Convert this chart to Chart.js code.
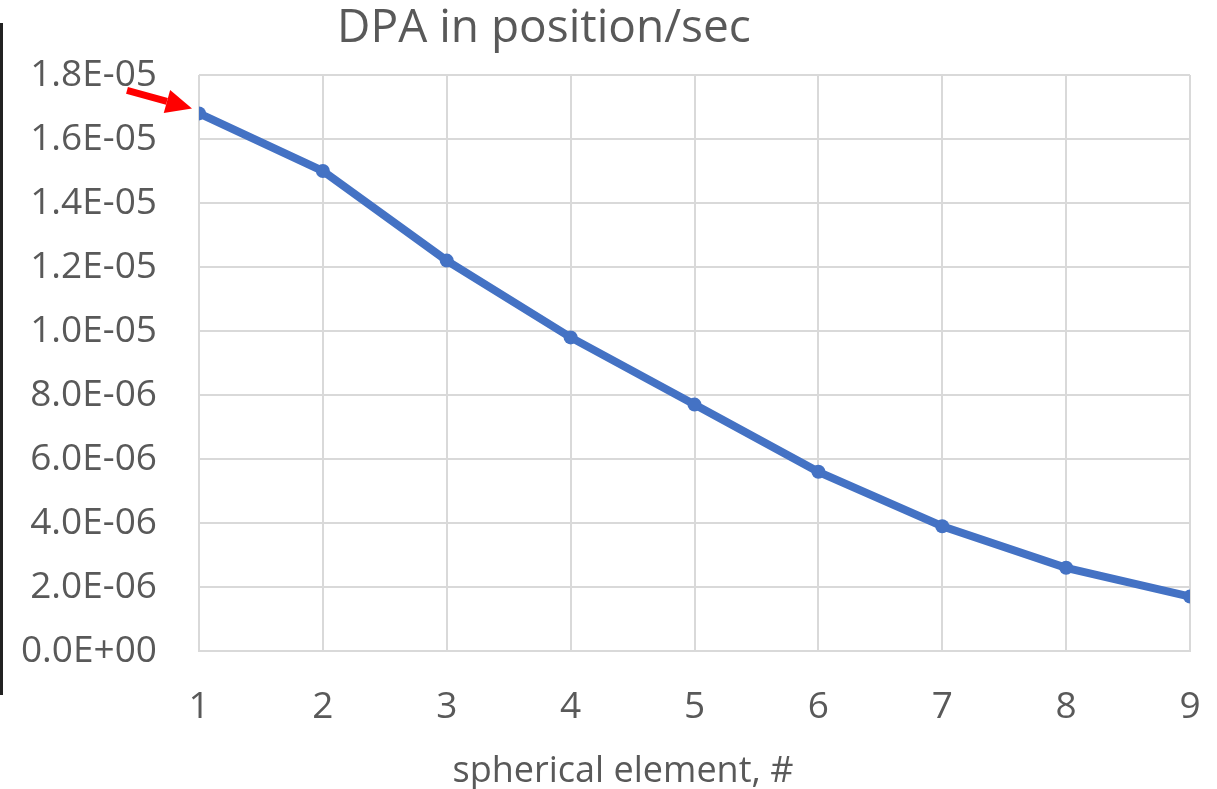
<!DOCTYPE html>
<html>
<head>
<meta charset="utf-8">
<script src="https://cdn.jsdelivr.net/npm/chart.js@4/dist/chart.umd.min.js"></script>
<style>
  html, body { margin: 0; padding: 0; background: #fff; }
  #wrap { width: 1217px; height: 789px; }
</style>
</head>
<body>
<div id="wrap"><canvas id="dpaChart" width="1217" height="789"></canvas></div>
<script>
// spherical element number and DPA rate
const elements = [1, 2, 3, 4, 5, 6, 7, 8, 9];
const dpaValues = [1.68e-5, 1.50e-5, 1.22e-5, 9.8e-6, 7.7e-6, 5.6e-6, 3.9e-6, 2.6e-6, 1.7e-6];
const yTicks = [0, 2e-6, 4e-6, 6e-6, 8e-6, 1e-5, 1.2e-5, 1.4e-5, 1.6e-5, 1.8e-5];
const chartTitle = 'DPA in position/sec';
const xTitle = 'spherical element, #';

const textColor = '#595959';
const gridColor = '#d9d9d9';
const fontFamily = "'Open Sans', 'Liberation Sans', sans-serif";

function sciLabel(v) {
    // Excel style 1.8E-05
    let s = Number(v).toExponential(1).toUpperCase();
    let parts = s.split('E');
    let sign = parts[1][0];
    let exp = parts[1].slice(1);
    if (exp.length < 2) exp = '0' + exp;
    return parts[0] + 'E' + sign + exp;
}

// titles, left border line and the red arrow on the first point
const extras = {
    id: 'extras',
    afterDraw(chart) {
        const ctx = chart.ctx;
        ctx.save();

        ctx.strokeStyle = '#222';
        ctx.lineWidth = 3;
        ctx.beginPath();
        ctx.moveTo(1.5, 23);
        ctx.lineTo(1.5, 695);
        ctx.stroke();

        ctx.fillStyle = textColor;
        ctx.textAlign = 'center';
        ctx.textBaseline = 'alphabetic';
        ctx.font = '46px ' + fontFamily;
        ctx.fillText(chartTitle, 544, 42);
        ctx.font = '36px ' + fontFamily;
        ctx.fillText(xTitle, 623, 782);

        const pt = chart.getDatasetMeta(0).data[0];
        const tipX = pt.x - 7, tipY = pt.y - 5;
        const tailX = pt.x - 72, tailY = pt.y - 23;
        const ang = Math.atan2(tipY - tailY, tipX - tailX);
        const headLen = 26, headW = 12;
        const bx = tipX - headLen * Math.cos(ang), by = tipY - headLen * Math.sin(ang);
        ctx.strokeStyle = '#ff0000';
        ctx.fillStyle = '#ff0000';
        ctx.lineWidth = 7;
        ctx.beginPath();
        ctx.moveTo(tailX, tailY);
        ctx.lineTo(bx, by);
        ctx.stroke();
        ctx.beginPath();
        ctx.moveTo(tipX, tipY);
        ctx.lineTo(bx + headW * Math.sin(ang), by - headW * Math.cos(ang));
        ctx.lineTo(bx - headW * Math.sin(ang), by + headW * Math.cos(ang));
        ctx.closePath();
        ctx.fill();

        ctx.restore();
    }
};

const ctx = document.getElementById('dpaChart').getContext('2d');
new Chart(ctx, {
    type: 'line',
    data: {
        datasets: [{
            label: 'DPA',
            data: elements.map((e, i) => ({ x: e, y: dpaValues[i] })),
            borderColor: '#4472c4',
            backgroundColor: '#4472c4',
            borderWidth: 8,
            pointRadius: 7,
            pointBorderWidth: 0,
            tension: 0
        }]
    },
    options: {
        responsive: false,
        animation: false,
        layout: { padding: { top: 75, right: 27, left: 0, bottom: 0 } },
        plugins: {
            legend: { display: false },
            tooltip: { enabled: false },
            title: { display: false }
        },
        scales: {
            x: {
                type: 'linear',
                min: 1,
                max: 9,
                afterFit: function(scale) {
                    scale.height = 138;
                    scale.paddingLeft = 0;
                    scale.paddingRight = 0;
                },
                afterBuildTicks: function(scale) {
                    scale.ticks = elements.map(v => ({ value: v }));
                },
                grid: { color: gridColor, lineWidth: 2, drawTicks: false },
                border: { color: gridColor, width: 2 },
                ticks: {
                    color: textColor,
                    font: { family: fontFamily, size: 37 },
                    padding: 34,
                    maxRotation: 0
                }
            },
            y: {
                min: 0,
                max: 1.8e-5,
                afterFit: function(scale) { scale.width = 199; },
                afterBuildTicks: function(scale) {
                    scale.ticks = yTicks.map(v => ({ value: v }));
                },
                grid: { color: gridColor, lineWidth: 2, drawTicks: false },
                border: { display: false },
                ticks: {
                    color: textColor,
                    font: { family: fontFamily, size: 37 },
                    padding: 42,
                    callback: function(v) { return sciLabel(v); }
                }
            }
        }
    },
    plugins: [extras]
});
</script>
</body>
</html>
